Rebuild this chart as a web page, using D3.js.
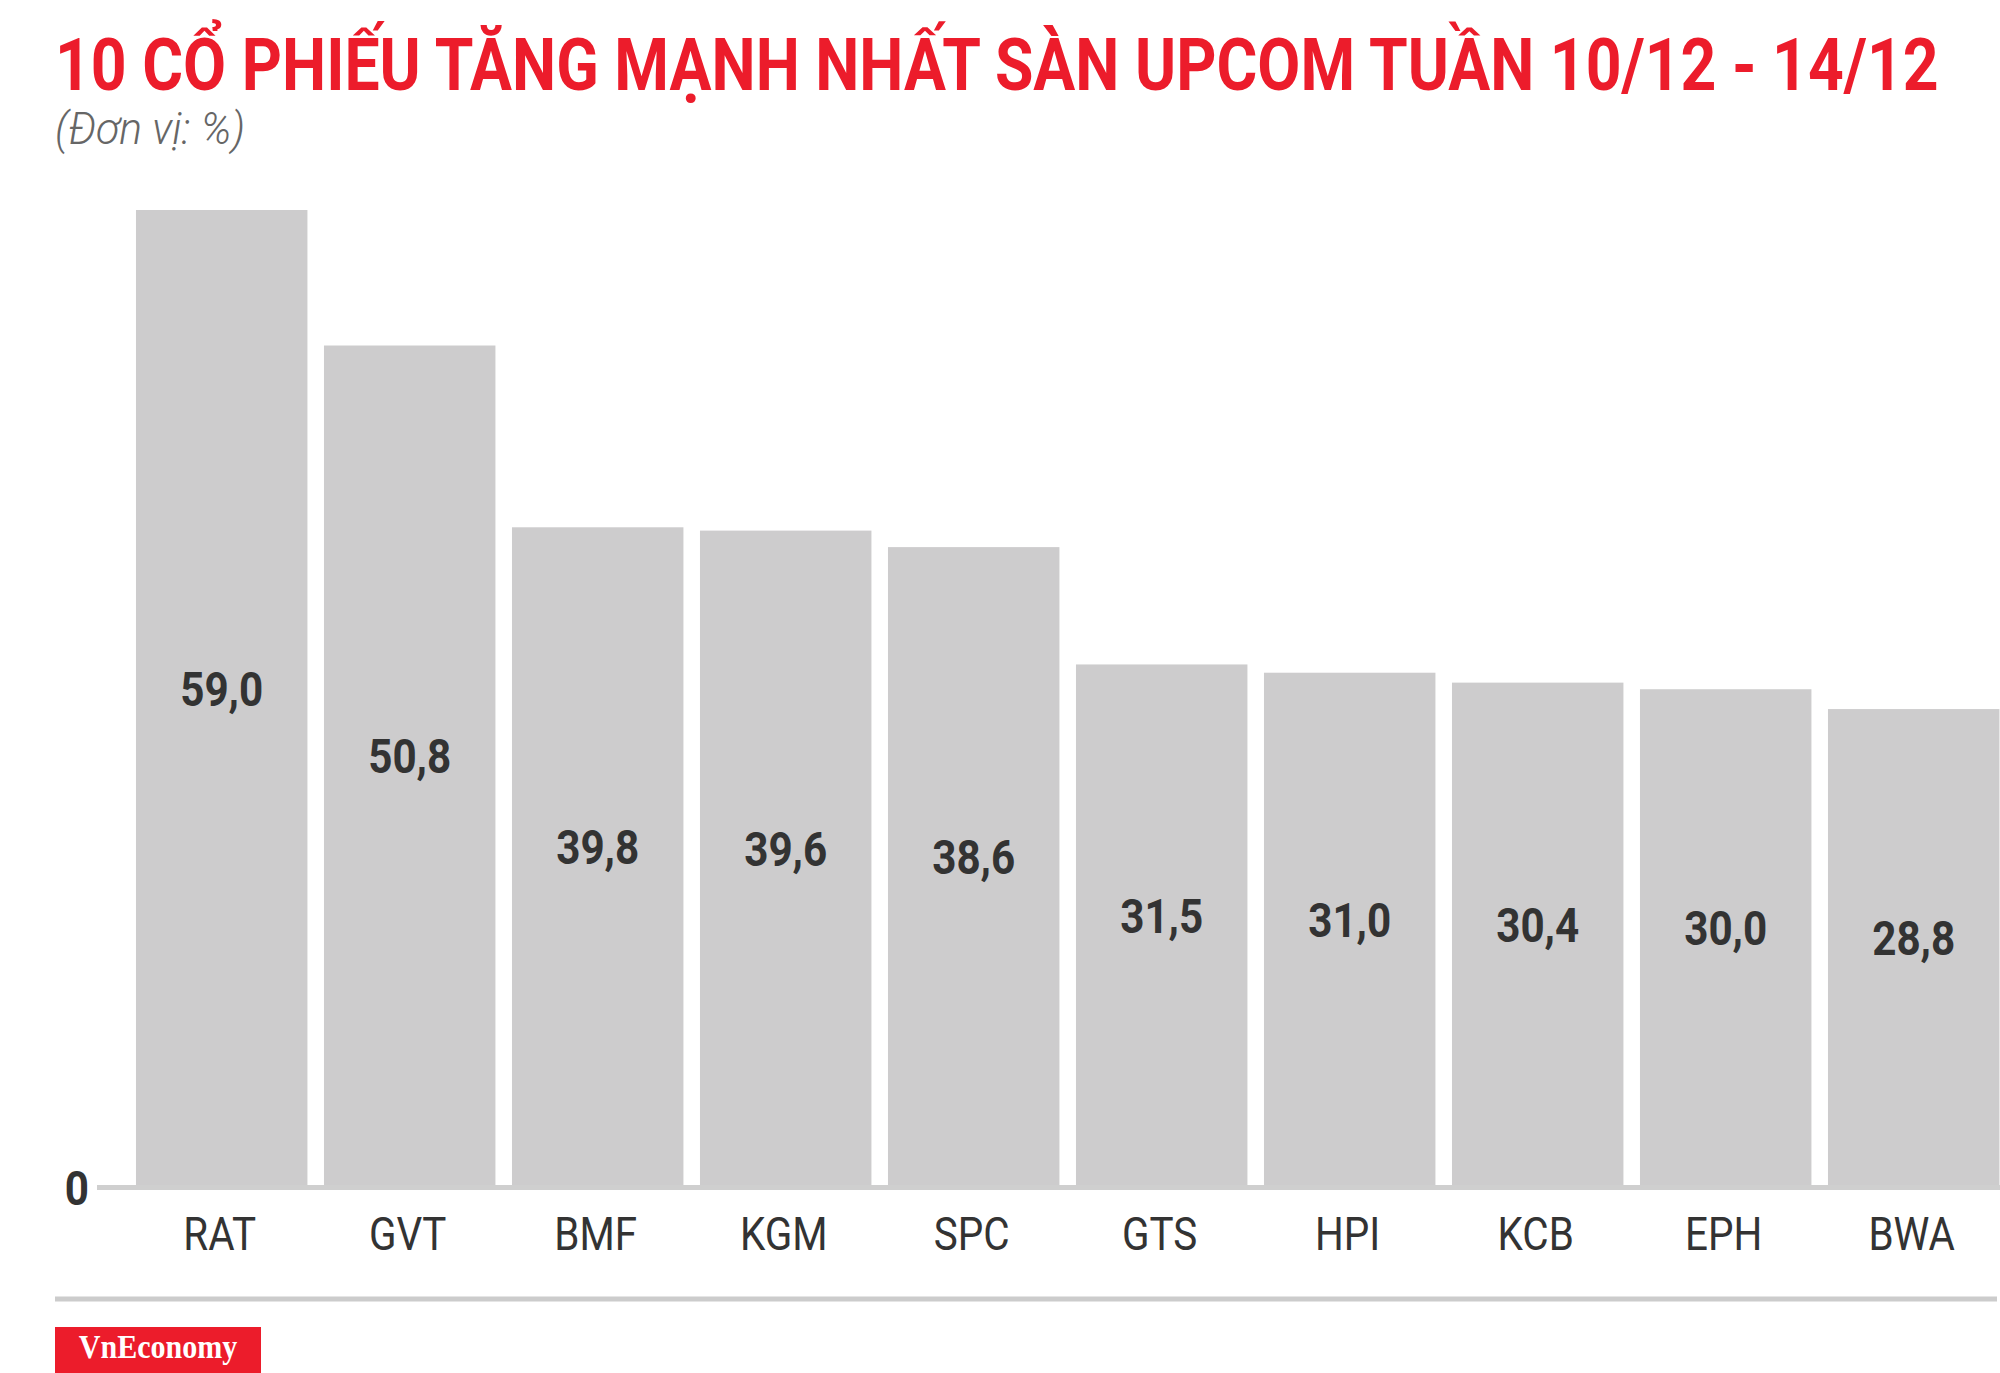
<!DOCTYPE html>
<html>
<head>
<meta charset="utf-8">
<script src="https://cdn.jsdelivr.net/npm/d3@7"></script>
<style>
  html, body { margin: 0; padding: 0; background: #fff; }
  svg { display: block; }
</style>
</head>
<body>
<svg id="chart" width="2000" height="1373"></svg>
<script>
// ---- data ----
const categories = ["RAT", "GVT", "BMF", "KGM", "SPC", "GTS", "HPI", "KCB", "EPH", "BWA"];
const values = [59.0, 50.8, 39.8, 39.6, 38.6, 31.5, 31.0, 30.4, 30.0, 28.8];
const valueLabels = ["59,0", "50,8", "39,8", "39,6", "38,6", "31,5", "31,0", "30,4", "30,0", "28,8"];
const yTickLabels = ["0"];
const titleText = "10 CỔ PHIẾU TĂNG MẠNH NHẤT SÀN UPCOM TUẦN 10/12 - 14/12";
const subtitleText = "(Đơn vị: %)";
const brandText = "VnEconomy";

// ---- layout ----
const W = 2000, H = 1373;
const svg = d3.select("#chart");
const RED = "#ec1c2b";
const BAR = "#cdcccd";
const DARK = "#333333";

const x = d3.scaleBand()
  .domain(categories)
  .range([127.7, 2007.7])
  .paddingInner(0.088)
  .paddingOuter(0.044);

const y = d3.scaleLinear().domain([0, 59]).range([1185, 210]);

// helper: horizontally condensed text
function condText(parent, str, tx, ty, sx, opts) {
  const g = parent.append("g").attr("transform", `translate(${tx},${ty}) scale(${sx},1)`);
  const t = g.append("text").text(str)
    .attr("x", 0).attr("y", 0)
    .attr("font-family", opts.family || "Roboto")
    .attr("font-size", opts.size)
    .attr("font-weight", opts.weight || "normal")
    .attr("font-style", opts.style || "normal")
    .attr("fill", opts.fill || DARK)
    .attr("text-anchor", opts.anchor || "start");
  return { g, t };
}

// title, fitted to its width
{
  const { g, t } = condText(svg, titleText, 55, 90, 1, { size: 72, weight: "bold", fill: RED });
  const w = t.node().getBBox().width;
  const target = 1884;
  g.attr("transform", `translate(55,90) scale(${target / w},1)`);
}
// subtitle
condText(svg, subtitleText, 55, 144, 0.95, { size: 45, style: "italic", weight: 300, fill: "#666666" });

// bars
svg.append("g").selectAll("rect")
  .data(categories)
  .join("rect")
  .attr("x", d => x(d))
  .attr("width", x.bandwidth())
  .attr("y", (d, i) => y(values[i]))
  .attr("height", (d, i) => y(0) - y(values[i]))
  .attr("fill", BAR);

// baseline
svg.append("line")
  .attr("x1", 97).attr("x2", W)
  .attr("y1", y(0) + 2.5).attr("y2", y(0) + 2.5)
  .attr("stroke", "#cfcfcf").attr("stroke-width", 5);

// y tick label "0"
yTickLabels.forEach(lbl => {
  condText(svg, lbl, 89, y(0) + 20, 0.88, { size: 48, weight: "bold", anchor: "end", fill: DARK });
});

// value labels
const vl = svg.append("g");
categories.forEach((c, i) => {
  const cx = x(c) + x.bandwidth() / 2;
  const cy = (y(values[i]) + y(0)) / 2 + 8;
  condText(vl, valueLabels[i], cx, cy, 0.88, { size: 48, weight: "bold", anchor: "middle", fill: DARK });
});

// category labels
const cl = svg.append("g");
categories.forEach(c => {
  const cx = x(c) + x.bandwidth() / 2 - 2;
  condText(cl, c, cx, 1250, 0.86, { size: 47, anchor: "middle", fill: DARK });
});

// footer rule
svg.append("line")
  .attr("x1", 55).attr("x2", 1997)
  .attr("y1", 1299).attr("y2", 1299)
  .attr("stroke", "#cccccc").attr("stroke-width", 5);

// brand box
svg.append("rect")
  .attr("x", 55).attr("y", 1327).attr("width", 206).attr("height", H - 1327)
  .attr("fill", RED);
{
  const { g, t } = condText(svg, brandText, 158, 1358, 1, { family: "Liberation Serif", size: 33, weight: "bold", anchor: "middle", fill: "#ffffff" });
  const w = t.node().getBBox().width;
  g.attr("transform", `translate(158,1358) scale(${159 / w},1)`);
}
</script>
</body>
</html>
